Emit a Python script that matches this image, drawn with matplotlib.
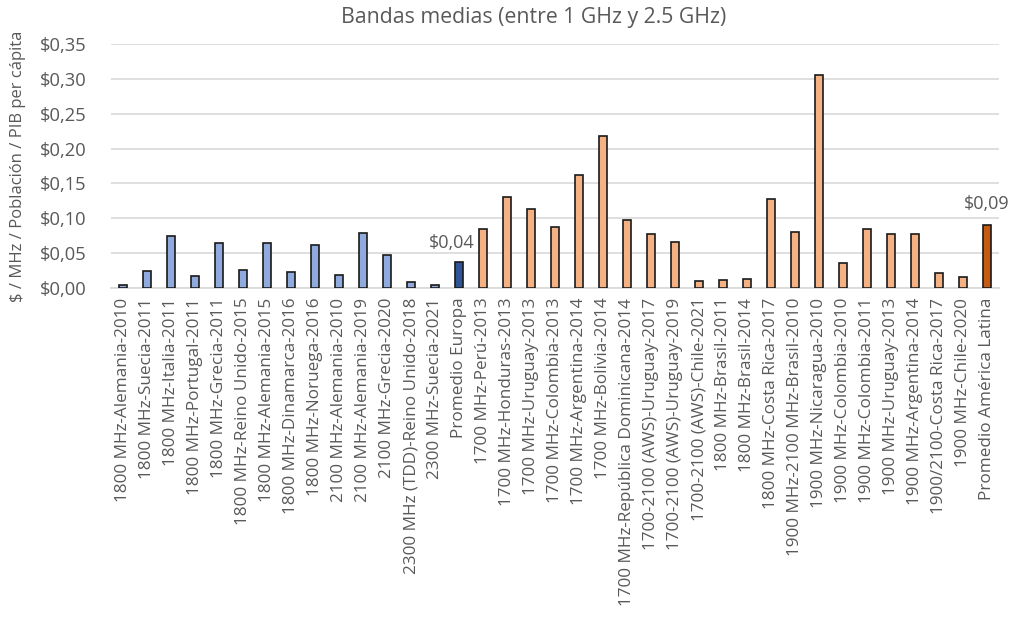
import matplotlib
matplotlib.use("Agg")
import matplotlib.pyplot as plt
from matplotlib.ticker import FuncFormatter

# ---- datos ----
etiquetas = [
    "1800 MHz-Alemania-2010", "1800 MHz-Suecia-2011", "1800 MHz-Italia-2011",
    "1800 MHz-Portugal-2011", "1800 MHz-Grecia-2011", "1800 MHz-Reino Unido-2015",
    "1800 MHz-Alemania-2015", "1800 MHz-Dinamarca-2016", "1800 MHz-Noruega-2016",
    "2100 MHz-Alemania-2010", "2100 MHz-Alemania-2019", "2100 MHz-Grecia-2020",
    "2300 MHz (TDD)-Reino Unido-2018", "2300 MHz-Suecia-2021", "Promedio Europa",
    "1700 MHz-Perú-2013", "1700 MHz-Honduras-2013", "1700 MHz-Uruguay-2013",
    "1700 MHz-Colombia-2013", "1700 MHz-Argentina-2014", "1700 MHz-Bolivia-2014",
    "1700 MHz-República Dominicana-2014", "1700-2100 (AWS)-Uruguay-2017",
    "1700-2100 (AWS)-Uruguay-2019", "1700-2100 (AWS)-Chile-2021",
    "1800 MHz-Brasil-2011", "1800 MHz-Brasil-2014", "1800 MHz-Costa Rica-2017",
    "1900 MHz-2100 MHz-Brasil-2010", "1900 MHz-Nicaragua-2010",
    "1900 MHz-Colombia-2010", "1900 MHz-Colombia-2011", "1900 MHz-Uruguay-2013",
    "1900 MHz-Argentina-2014", "1900/2100-Costa Rica-2017", "1900 MHz-Chile-2020",
    "Promedio América Latina",
]
valores = [
    0.005, 0.024, 0.075, 0.017, 0.065, 0.026, 0.065, 0.023, 0.062,
    0.018, 0.079, 0.047, 0.009, 0.004, 0.037,
    0.085, 0.130, 0.114, 0.087, 0.162, 0.218, 0.098, 0.078, 0.066,
    0.010, 0.012, 0.013, 0.127, 0.080, 0.306, 0.036, 0.084, 0.078,
    0.078, 0.021, 0.016, 0.090,
]
n_europa = 14  # casos europeos antes del promedio

# ---- colores ----
AZUL = "#8FAADC"
AZUL_OSC = "#2F5597"
NARANJA = "#F4B183"
NARANJA_OSC = "#C55A11"
GRIS_TXT = "#595959"

colores = [AZUL] * n_europa + [AZUL_OSC] + [NARANJA] * (len(valores) - n_europa - 2) + [NARANJA_OSC]

plt.rcParams["font.family"] = ["Open Sans", "DejaVu Sans"]


def dinero(v):
    return "$" + f"{v:.2f}".replace(".", ",")


fig = plt.figure(figsize=(10.16, 6.17), dpi=100)
ax = fig.add_axes([0.1093, 0.5332, 0.874, 0.3955])

x = list(range(len(valores)))
ax.bar(x, valores, width=0.32, color=colores, edgecolor="#1a1a1a", linewidth=1.2, zorder=3)

ax.set_xlim(-0.5, len(valores) - 0.5)
ax.set_ylim(0, 0.35)
ax.set_yticks([0, 0.05, 0.10, 0.15, 0.20, 0.25, 0.30, 0.35])
ax.yaxis.set_major_formatter(FuncFormatter(lambda v, p: dinero(v)))
ax.grid(axis="y", color="#D9D9D9", linewidth=1.2, zorder=0)
ax.set_axisbelow(True)

for s in ["top", "right", "left"]:
    ax.spines[s].set_visible(False)
ax.spines["bottom"].set_color("#D9D9D9")
ax.spines["bottom"].set_linewidth(1.2)

ax.set_xticks(x)
ax.set_xticklabels(etiquetas, rotation=90, fontsize=12.3, color=GRIS_TXT)
ax.tick_params(axis="x", length=0, pad=7)
ax.tick_params(axis="y", length=0, labelsize=13.2, labelcolor=GRIS_TXT, pad=17.5)

ax.set_ylabel("$ / MHz / Población / PIB per cápita", fontsize=12, color=GRIS_TXT)
ax.yaxis.set_label_coords(-0.096, 0.5)
fig.text(0.525, 0.971, "Bandas medias (entre 1 GHz y 2.5 GHz)", fontsize=15.3,
         color=GRIS_TXT, ha="center", va="center")

# etiquetas de promedios
i_eu = n_europa
ax.annotate(dinero(valores[i_eu]), (i_eu, valores[i_eu]),
            xytext=(-5, 7), textcoords="offset points", ha="center", va="bottom",
            fontsize=13, color=GRIS_TXT)
i_al = len(valores) - 1
ax.annotate(dinero(valores[i_al]), (i_al, valores[i_al]),
            xytext=(0, 9), textcoords="offset points", ha="center", va="bottom",
            fontsize=13, color=GRIS_TXT)

fig.savefig("out.png", dpi=100)
